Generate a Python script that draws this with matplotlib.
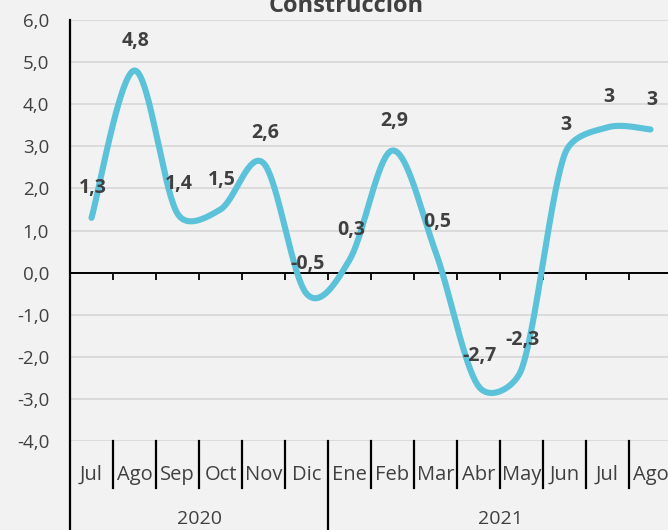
import numpy as np
import matplotlib
matplotlib.use("Agg")
import matplotlib.pyplot as plt
from matplotlib.transforms import blended_transform_factory
from matplotlib.lines import Line2D

# ---------------- data ----------------
months = ["Jul", "Ago", "Sep", "Oct", "Nov", "Dic", "Ene", "Feb", "Mar",
          "Abr", "May", "Jun", "Jul", "Ago"]
years = ["2020", "2021"]
year_spans = [6, 8]
values = [1.3, 4.8, 1.4, 1.5, 2.6, -0.5, 0.3, 2.9, 0.5, -2.7, -2.3, 2.8, 3.45, 3.4]
value_labels = ["1,3", "4,8", "1,4", "1,5", "2,6", "-0,5", "0,3", "2,9", "0,5",
                "-2,7", "-2,3", "3", "3", "3"]
yticks = [-4, -3, -2, -1, 0, 1, 2, 3, 4, 5, 6]
ytick_labels = ["-4,0", "-3,0", "-2,0", "-1,0", "0,0", "1,0", "2,0", "3,0",
                "4,0", "5,0", "6,0"]
title = "Construcción"

# ---------------- style ----------------
plt.rcParams['font.family'] = ['Open Sans', 'DejaVu Sans']
BG = '#F2F2F2'
TXT = '#404040'
LINE = '#5BC2DA'

W, H = 668, 530
fig = plt.figure(figsize=(W / 100, H / 100), dpi=100, facecolor=BG)
ax_left, ax_top, ax_bottom = 70, 20, 441
cat_w = 43.0
ax = fig.add_axes([ax_left / W, (H - ax_bottom) / H,
                   cat_w * len(months) / W, (ax_bottom - ax_top) / H])
ax.set_facecolor(BG)

n = len(months)
x = np.arange(n)
ax.set_xlim(-0.5, n - 0.5)
ax.set_ylim(yticks[0], yticks[-1])

# grid
ax.set_yticks(yticks)
ax.set_yticklabels(ytick_labels)
ax.yaxis.grid(True, color='#D9D9D9', lw=1.3)
ax.set_axisbelow(True)
ax.tick_params(axis='y', length=0, pad=15, labelsize=13.5, labelcolor=TXT)

# spines
for s in ['top', 'right', 'left']:
    ax.spines[s].set_visible(False)
ax.spines['bottom'].set_position(('data', 0))
ax.spines['bottom'].set_color('black')
ax.spines['bottom'].set_linewidth(1.4)
ax.set_xticks(np.arange(0.5, n - 0.5, 1.0))
ax.set_xticklabels([])
ax.tick_params(axis='x', direction='out', length=5, width=1.3, color='black')

# smoothed line (Excel-like bezier smoothing, in display space)
def smooth(P, k=0.42, npts=40):
    m = len(P)
    c_out, c_in = [], []
    for i in range(m):
        prev = P[i - 1] if i > 0 else P[i]
        nxt = P[i + 1] if i < m - 1 else P[i]
        T = (nxt - prev) / 6.0
        L = np.hypot(*T)
        dp = np.hypot(*(P[i] - prev))
        dn = np.hypot(*(nxt - P[i]))
        o = T.copy()
        inn = T.copy()
        if L > 0:
            if L > k * dn:
                o = T * k * dn / L
            if L > k * dp:
                inn = T * k * dp / L
        c_out.append(P[i] + o)
        c_in.append(P[i] - inn)
    t = np.linspace(0, 1, npts)[:, None]
    segs = []
    for i in range(m - 1):
        p0, p1, p2, p3 = P[i], c_out[i], c_in[i + 1], P[i + 1]
        seg = ((1 - t) ** 3) * p0 + 3 * ((1 - t) ** 2) * t * p1 \
            + 3 * (1 - t) * (t ** 2) * p2 + (t ** 3) * p3
        segs.append(seg if i == 0 else seg[1:])
    return np.vstack(segs)

P = ax.transData.transform(np.column_stack([x, values]))
curve = ax.transData.inverted().transform(smooth(P))
ax.plot(curve[:, 0], curve[:, 1], color=LINE, lw=4.4,
        solid_capstyle='round', solid_joinstyle='round', zorder=3)

# data labels
for xi, v, lbl in zip(x, values, value_labels):
    ax.annotate(lbl, (xi, v), xytext=(1, 21.5), textcoords='offset points',
                ha='center', va='center', fontsize=14, fontweight='bold',
                color=TXT, zorder=4)

# multi-level category axis (separators drawn in figure coordinates)
year_bounds = [-0.5]
for sp in year_spans:
    year_bounds.append(year_bounds[-1] + sp)
top_frac = (H - ax_top) / H
axis_frac = (H - ax_bottom) / H
month_sep_frac = (H - 488) / H
for k in range(n):
    b = k - 0.5
    xf = fig.transFigure.inverted().transform(ax.transData.transform((b, 0)))[0]
    is_year = any(abs(b - yb) < 1e-6 for yb in year_bounds)
    y0 = top_frac if k == 0 else axis_frac
    y1 = 0.0 if is_year else month_sep_frac
    fig.add_artist(Line2D([xf, xf], [y0, y1], transform=fig.transFigure,
                          color='black', lw=1.6, zorder=5))

tr = blended_transform_factory(ax.transData, ax.transAxes)
hpx = ax_bottom - ax_top
for xi, m in zip(x, months):
    ax.text(xi, -(475 - ax_bottom) / hpx, m, transform=tr, ha='center',
            va='center', fontsize=14.5, color=TXT)
for i, yr in enumerate(years):
    cx = (year_bounds[i] + year_bounds[i + 1]) / 2
    ax.text(cx, -(519 - ax_bottom) / hpx, yr, transform=tr, ha='center',
            va='center', fontsize=14, color=TXT)

fig.text(346 / W, 1 - 12 / H, title, ha='center', va='baseline',
         fontsize=17, fontweight='bold', color=TXT)

fig.savefig('out.png', dpi=100, facecolor=BG)
